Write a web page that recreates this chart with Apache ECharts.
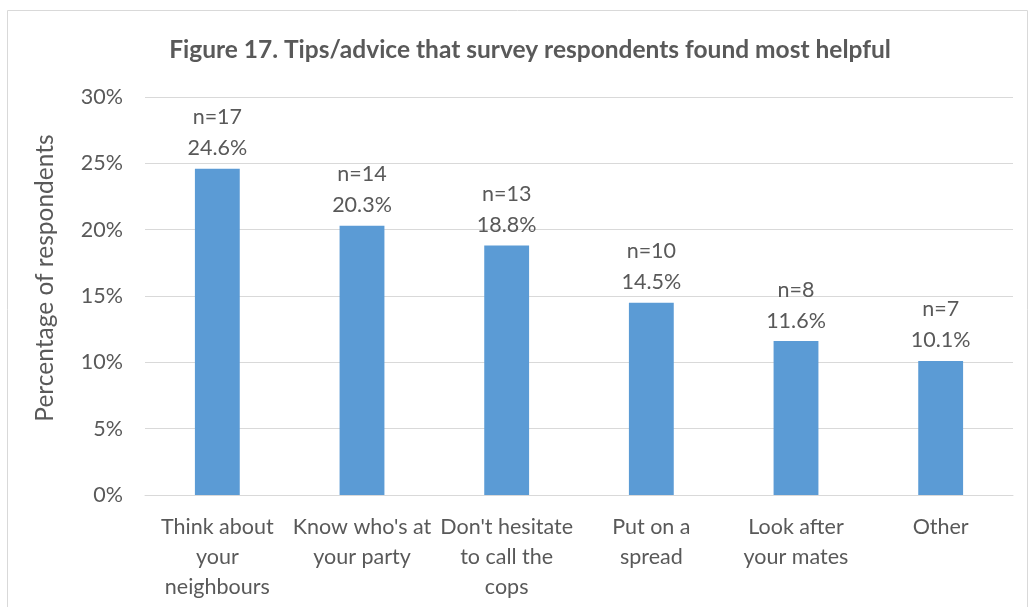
<!DOCTYPE html>
<html><head><meta charset="utf-8">
<script src="https://cdn.jsdelivr.net/npm/echarts@6/dist/echarts.min.js"></script>
<style>html,body{margin:0;padding:0;background:#fff}#c{width:1030px;height:607px}</style>
</head><body><div id="c"></div>
<script>
const categories = ["Think about\nyour\nneighbours", "Know who's at\nyour party", "Don't hesitate\nto call the\ncops", "Put on a\nspread", "Look after\nyour mates", "Other"];
const percentages = [24.6, 20.3, 18.8, 14.5, 11.6, 10.1];
const counts = [17, 14, 13, 10, 8, 7];
const title = "Figure 17. Tips/advice that survey respondents found most helpful";
const yAxisName = "Percentage of respondents";

const FONT = "Lato, 'Open Sans', sans-serif";
const TXT = '#595959';
const chart = echarts.init(document.getElementById('c'));
chart.setOption({
  animation: false,
  title: { text: title, left: 525, top: 33, textAlign: 'center',
    textStyle: { fontFamily: FONT, fontSize: 24.5, fontWeight: 'bold', color: TXT } },
  graphic: [{ type: 'rect', shape: { x: 7.5, y: 10.5, width: 1020, height: 620 },
    style: { fill: 'none', stroke: '#D9D9D9', lineWidth: 1 }, silent: true }],
  grid: { left: 145, right: 17, top: 97, bottom: 112 },
  xAxis: { type: 'category', data: categories,
    axisLine: { lineStyle: { color: '#D9D9D9', width: 1 } }, axisTick: { show: false },
    axisLabel: { interval: 0, color: TXT, fontFamily: FONT, fontSize: 21.5, lineHeight: 30, margin: 17 } },
  yAxis: { type: 'value', min: 0, max: 30, interval: 5,
    name: yAxisName, nameLocation: 'middle', nameGap: 87, nameRotate: 90,
    nameTextStyle: { color: TXT, fontFamily: FONT, fontSize: 24.5, padding: [0, 0, 0, 36] },
    axisLabel: { formatter: '{value}%', color: TXT, fontFamily: FONT, fontSize: 21.5, margin: 22 },
    splitLine: { lineStyle: { color: '#D9D9D9', width: 1 } },
    axisLine: { show: false }, axisTick: { show: false } },
  series: [{ type: 'bar', barWidth: '31%',
    data: percentages.map((v, i) => ({ value: v, n: counts[i] })),
    itemStyle: { color: '#5B9BD5' },
    label: { show: true, position: 'top', distance: 5, color: TXT, fontFamily: FONT, fontSize: 21.5, lineHeight: 31,
      formatter: p => 'n=' + counts[p.dataIndex] + '\n' + p.value.toFixed(1) + '%' } }]
});
</script></body></html>
